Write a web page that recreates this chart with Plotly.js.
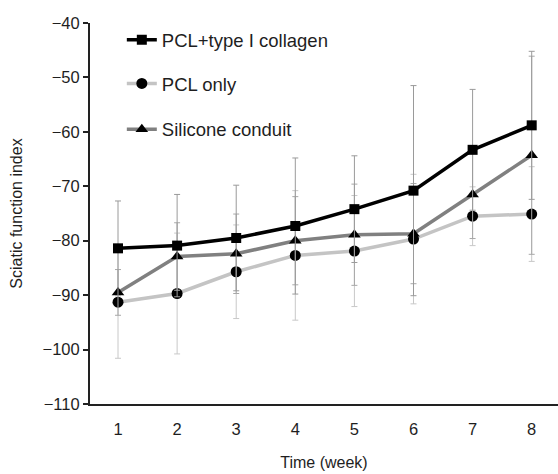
<!DOCTYPE html>
<html>
<head>
<meta charset="utf-8">
<script src="https://cdn.plot.ly/plotly-3.0.1.min.js"></script>
<style>html,body{margin:0;padding:0;background:#fff;}#chart{width:558px;height:474px;}</style>
</head>
<body>
<div id="chart"></div>
<script>
const weeks = [1, 2, 3, 4, 5, 6, 7, 8];
const collagen = [-81.4, -80.9, -79.5, -77.3, -74.2, -70.8, -63.3, -58.8];
const collagenSD = [8.7, 9.4, 9.7, 12.5, 9.8, 19.3, 11.1, 13.6];
const pclOnly = [-91.3, -89.7, -85.7, -82.7, -81.9, -79.7, -75.5, -75.1];
const pclOnlySD = [10.3, 11.1, 8.6, 11.9, 10.2, 11.9, 5.4, 8.7];
const silicone = [-89.5, -82.9, -82.4, -80.0, -78.9, -78.7, -71.5, -64.3];
const siliconeSD = [4.2, 6.2, 7.3, 8.1, 9.3, 9.2, 8.1, 18.2];
const yTicks = [-40, -50, -60, -70, -80, -90, -100, -110];

const fontFam = 'Liberation Sans, Arial, sans-serif';
const txt = '#1e1e1e';

function eb(arr, color) {
  return {type: 'data', array: arr, visible: true, color: color, thickness: 1, width: 3};
}

const traces = [
  {
    x: weeks, y: pclOnly, name: 'PCL only', mode: 'lines+markers',
    line: {color: '#c4c4c4', width: 3.5},
    marker: {symbol: 'circle', size: 11, color: '#000'},
    error_y: eb(pclOnlySD, '#c8c8c8'),
    legend: 'legend2'
  },
  {
    x: weeks, y: silicone, name: 'Silicone conduit', mode: 'lines+markers',
    line: {color: '#808080', width: 3.5},
    marker: {symbol: 'triangle-up', size: 11, color: '#000'},
    error_y: eb(siliconeSD, '#a8a8a8'),
    legend: 'legend3'
  },
  {
    x: weeks, y: collagen, name: 'PCL+type I collagen', mode: 'lines+markers',
    line: {color: '#000', width: 3.5},
    marker: {symbol: 'square', size: 10, color: '#000'},
    error_y: eb(collagenSD, '#9a9a9a'),
    legend: 'legend'
  }
];

const legendBase = {
  bgcolor: 'rgba(0,0,0,0)', borderwidth: 0,
  font: {family: fontFam, size: 18.5, color: txt},
  xanchor: 'left', yanchor: 'middle', itemwidth: 30
};

const layout = {
  width: 558, height: 474,
  margin: {l: 90, r: 0, t: 23, b: 70},
  paper_bgcolor: '#fff', plot_bgcolor: '#fff',
  font: {family: fontFam, size: 16, color: txt},
  showlegend: true,
  legend: Object.assign({}, legendBase, {x: 0.068, y: 0.955}),
  legend2: Object.assign({}, legendBase, {x: 0.068, y: 0.84}),
  legend3: Object.assign({}, legendBase, {x: 0.068, y: 0.72}),
  xaxis: {
    range: [0.526, 8.445],
    tickvals: weeks, ticktext: weeks.map(String),
    showgrid: false, zeroline: false,
    showline: true, linecolor: '#222', linewidth: 2,
    ticks: '', ticklabelstandoff: 9,
    tickfont: {family: fontFam, size: 16.5, color: txt},
    title: {text: 'Time (week)', font: {family: fontFam, size: 16, color: txt}, standoff: 20},
    automargin: false
  },
  yaxis: {
    range: [-110, -40],
    tickvals: yTicks,
    showgrid: false, zeroline: false,
    showline: true, linecolor: '#222', linewidth: 2,
    ticks: 'outside', ticklen: 5, tickwidth: 2, tickcolor: '#222',
    tickfont: {family: fontFam, size: 16.5, color: txt},
    title: {text: 'Sciatic function index', font: {family: fontFam, size: 16, color: txt}, standoff: 16},
    automargin: false
  }
};

Plotly.newPlot('chart', traces, layout, {displayModeBar: false, staticPlot: true});
</script>
</body>
</html>
